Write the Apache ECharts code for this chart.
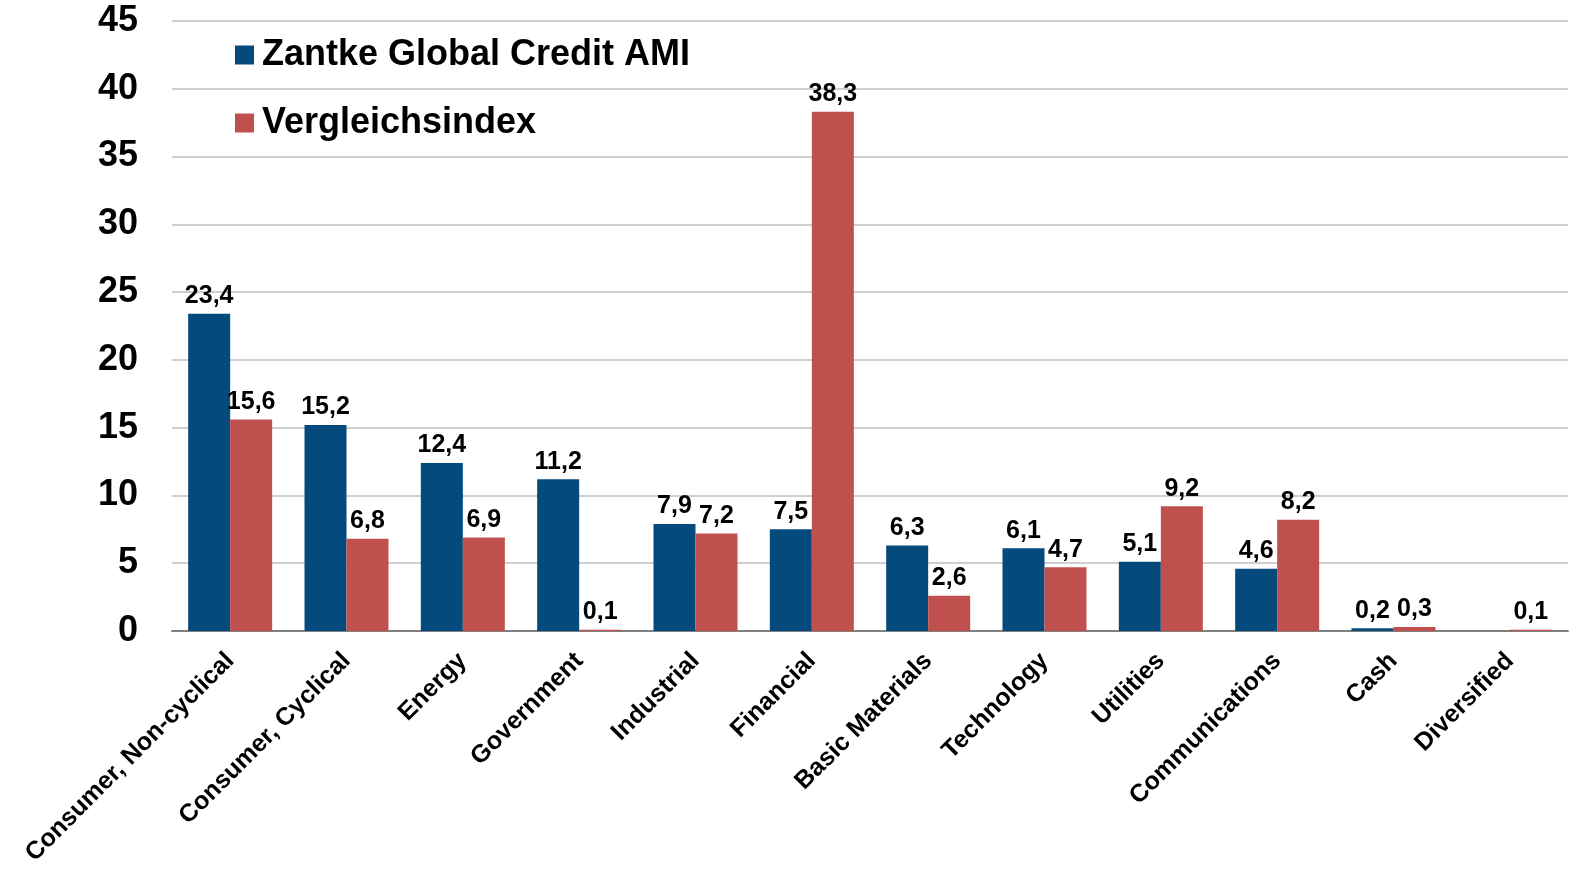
<!DOCTYPE html>
<html>
<head>
<meta charset="utf-8">
<script src="https://cdn.jsdelivr.net/npm/echarts@6/dist/echarts.min.js"></script>
<style>html,body{margin:0;padding:0;background:#fff}#c{width:1595px;height:887px}</style>
</head>
<body>
<div id="c"></div>
<script>
const categories = ["Consumer, Non-cyclical","Consumer, Cyclical","Energy","Government","Industrial","Financial","Basic Materials","Technology","Utilities","Communications","Cash","Diversified"];
const seriesNames = ["Zantke Global Credit AMI","Vergleichsindex"];
const fundValues = [23.4,15.2,12.4,11.2,7.9,7.5,6.3,6.1,5.1,4.6,0.2,null];
const indexValues = [15.6,6.8,6.9,0.1,7.2,38.3,2.6,4.7,9.2,8.2,0.3,0.1];
const yTicks = {min:0,max:45,interval:5};

const FONT = "'Liberation Sans', Arial, sans-serif";
const fmt = p => (p.value == null ? '' : p.value.toFixed(1).replace('.', ','));
const labelCfg = {show:true, position:'top', distance:5, formatter:fmt, fontFamily:FONT, fontWeight:'bold', fontSize:25, color:'#000'};

const chart = echarts.init(document.getElementById('c'));
chart.setOption({
  animation:false,
  backgroundColor:'#fff',
  grid:{left:172, right:27, top:21, bottom:256, containLabel:false},
  legend:{
    orient:'vertical', left:230, top:32, itemWidth:19, itemHeight:19, itemGap:32,
    icon:'rect',
    textStyle:{fontFamily:FONT, fontWeight:'bold', fontSize:36, color:'#000', padding:[0,0,0,3]},
    data:seriesNames
  },
  xAxis:{
    type:'category', data:categories,
    axisLine:{lineStyle:{color:'#808080', width:2}},
    axisTick:{show:false},
    axisLabel:{interval:0, rotate:45, margin:26, fontFamily:FONT, fontWeight:'bold', fontSize:25, color:'#000'}
  },
  yAxis:{
    type:'value', min:yTicks.min, max:yTicks.max, interval:yTicks.interval,
    axisLine:{show:false}, axisTick:{show:false},
    splitLine:{lineStyle:{color:'#bfbfbf', width:1.5}},
    axisLabel:{margin:34, fontFamily:FONT, fontWeight:'bold', fontSize:36, color:'#000'}
  },
  series:[
    {name:seriesNames[0], type:'bar', data:fundValues, barWidth:42, barGap:'0%', itemStyle:{color:'#044a7c'}, label:labelCfg},
    {name:seriesNames[1], type:'bar', data:indexValues, barWidth:42, itemStyle:{color:'#c0504d'}, label:labelCfg}
  ]
});
</script>
</body>
</html>
